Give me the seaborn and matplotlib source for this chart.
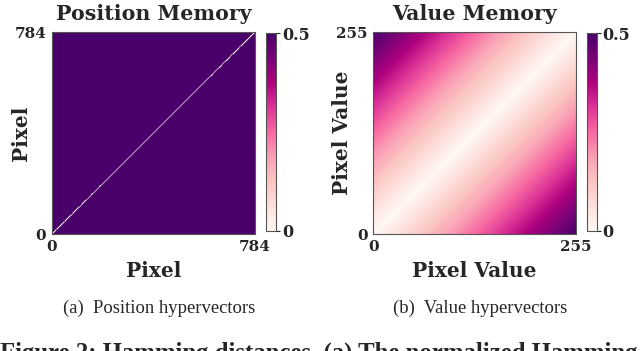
import numpy as np
import matplotlib
matplotlib.use('Agg')
import matplotlib.pyplot as plt
import seaborn as sns

# Data
n_pixels = 784            # position memory size (ticks 0 .. 784)
n_values = 256            # value memory size (ticks 0 .. 255)
position_off_diag = 0.5   # distance between different positions
position_diag = 0.0       # distance of a position to itself
value_max = 0.5           # distance between value 0 and value 255
value_min = 0.0           # distance of a value to itself
cbar_ticks = [0, 0.5]
cbar_labels = ['0', '0.5']

titles = ['Position Memory', 'Value Memory']
axis_labels = ['Pixel', 'Pixel Value']
tick_labels = [['0', '784'], ['0', '255']]
subcaptions = ['(a)  Position hypervectors', '(b)  Value hypervectors']
fig_caption = 'Figure 2: Hamming distances. (a) The normalized Hamming distances'

# Build matrices
pos_mem = np.full((n_pixels, n_pixels), position_off_diag)
np.fill_diagonal(pos_mem, position_diag)
idx = np.arange(n_values)
val_mem = value_min + (value_max - value_min) * np.abs(idx[:, None] - idx[None, :]) / (n_values - 1)

sns.set_theme(style='white')
plt.rcParams['font.family'] = ['DejaVu Serif']
plt.rcParams['font.weight'] = 'bold'

fig = plt.figure(figsize=(6.4, 3.51), dpi=100)
ax_rects = [[0.081, 0.333, 0.317, 0.575], [0.583, 0.333, 0.317, 0.575]]
cb_rects = [[0.416, 0.342, 0.016, 0.563], [0.917, 0.342, 0.016, 0.563]]
ylabel_x = [-0.103, -0.103]
subcap_x = [159 / 640, 480 / 640]
mats = [pos_mem, val_mem]
sizes = [n_pixels, n_values]
cmap = plt.get_cmap('RdPu')

for i in range(2):
    ax = fig.add_axes(ax_rects[i])
    cax = fig.add_axes(cb_rects[i])
    sns.heatmap(mats[i], ax=ax, cbar_ax=cax, cmap=cmap, vmin=0, vmax=0.5,
                xticklabels=False, yticklabels=False)
    mesh = ax.collections[0]
    if i == 0:
        # diagonal cells are smaller than a pixel: redraw only them with a
        # face-coloured outline so they stay visible
        sns.heatmap(mats[i], ax=ax, mask=mats[i] != position_diag, cmap=cmap,
                    vmin=0, vmax=0.5, cbar=False, xticklabels=False,
                    yticklabels=False, linewidths=0.3, linecolor='face',
                    antialiased=True, alpha=0.6)
    ax.invert_yaxis()
    ax.set_xticks([0, sizes[i]])
    ax.set_xticklabels(tick_labels[i], fontsize=11, fontweight='bold')
    ax.set_yticks([0, sizes[i]])
    ax.set_yticklabels(tick_labels[i], fontsize=11, fontweight='bold', rotation=0)
    ax.tick_params(axis='both', length=3, width=0.8, color='#444444', pad=1)
    ax.set_xlabel(axis_labels[i], fontsize=14.5, fontweight='bold', labelpad=5)
    ax.set_ylabel(axis_labels[i], fontsize=14.5, fontweight='bold')
    ax.yaxis.set_label_coords(ylabel_x[i], 0.5)
    ax.set_title(titles[i], fontsize=14.8, fontweight='bold', pad=9)
    for sp in ax.spines.values():
        sp.set_visible(True)
        sp.set_linestyle((0, (2, 1)))
        sp.set_color('#555555')
        sp.set_linewidth(0.8)

    cb = mesh.colorbar
    cb.set_ticks(cbar_ticks)
    cb.set_ticklabels(cbar_labels)
    cax.tick_params(labelsize=11.5, length=3, width=0.8, pad=1)
    for lbl in cax.get_yticklabels():
        lbl.set_fontweight('bold')
    cb.outline.set_visible(True)
    cb.outline.set_edgecolor('#555555')
    cb.outline.set_linewidth(0.8)

    fig.text(subcap_x[i], 1 - 308 / 351, subcaptions[i], ha='center', va='center',
             fontsize=13.4, fontweight='normal', family='Liberation Serif')

fig.text(0.0, 1 - 342 / 351, fig_caption, ha='left', va='top', fontsize=17.8,
         fontweight='bold', family='Liberation Serif')

fig.savefig('out.png', dpi=100)
